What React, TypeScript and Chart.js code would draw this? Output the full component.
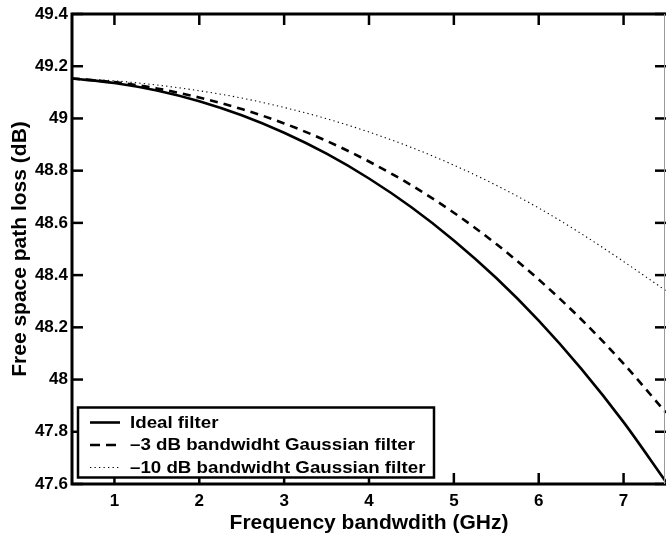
import React, { useEffect, useRef } from "react";
import { Chart, registerables } from "chart.js";

Chart.register(...registerables);

// ---- data ----
const freqGHz = [0.5, 1, 1.5, 2, 2.5, 3, 3.5, 4, 4.5, 5, 5.5, 6, 6.5, 7, 7.5];
const idealLoss = [49.153, 49.136, 49.107, 49.066, 49.012, 48.945, 48.865, 48.77, 48.66, 48.533, 48.389, 48.226, 48.042, 47.837, 47.608];
const gauss3Loss = [49.153, 49.139, 49.115, 49.08, 49.036, 48.981, 48.914, 48.835, 48.744, 48.639, 48.519, 48.383, 48.231, 48.061, 47.873];
const gauss10Loss = [49.153, 49.144, 49.128, 49.106, 49.078, 49.042, 48.999, 48.948, 48.889, 48.821, 48.744, 48.657, 48.559, 48.452, 48.34];
const seriesLabels = ["Ideal filter", "\u20133 dB bandwidht Gaussian filter", "\u201310 dB bandwidht Gaussian filter"];
const xTickValues = [1, 2, 3, 4, 5, 6, 7];
const yTickValues = [47.6, 47.8, 48, 48.2, 48.4, 48.6, 48.8, 49, 49.2, 49.4];
const xTitle = "Frequency bandwdith (GHz)";
const yTitle = "Free space path loss (dB)";

const FONT = "'Liberation Sans', Arial, Helvetica, sans-serif";
const dashStyles: number[][] = [[], [8, 6], [1.3, 3.2]];
const lineWidths = [2.6, 2.6, 1.1];

const framePlugin = {
  id: "frameAndLegend",
  afterDatasetsDraw(chart: any) {
    const { ctx, chartArea: a, scales } = chart;
    const x = scales.x;
    const y = scales.y;
    const seg = (x1: number, y1: number, x2: number, y2: number) => {
      ctx.beginPath();
      ctx.moveTo(x1, y1);
      ctx.lineTo(x2, y2);
      ctx.stroke();
    };
    ctx.save();
    ctx.strokeStyle = "#000";
    ctx.lineCap = "butt";
    ctx.lineWidth = 2.5;
    const tl = 11;
    for (const v of xTickValues) {
      const px = x.getPixelForValue(v);
      seg(px, a.bottom, px, a.bottom - tl);
      seg(px, a.top, px, a.top + tl);
    }
    for (const v of yTickValues) {
      const py = y.getPixelForValue(v);
      seg(a.left, py, a.left + tl, py);
      seg(a.right, py, a.right - tl, py);
    }
    // frame
    ctx.lineWidth = 3;
    ctx.beginPath();
    ctx.moveTo(a.right, a.top);
    ctx.lineTo(a.left, a.top);
    ctx.lineTo(a.left, a.bottom);
    ctx.lineTo(a.right, a.bottom);
    ctx.stroke();
    ctx.strokeStyle = "#9a9a9a";
    ctx.lineWidth = 1;
    seg(a.right - 1.5, a.top, a.right - 1.5, a.bottom);

    // legend
    const bx = a.left + 6;
    const bw = 356;
    const bh = 70;
    const by = a.bottom - 6.5 - bh;
    ctx.fillStyle = "#fff";
    ctx.fillRect(bx, by, bw, bh);
    ctx.strokeStyle = "#000";
    ctx.lineWidth = 2.5;
    ctx.strokeRect(bx, by, bw, bh);
    ctx.font = `bold 16px ${FONT}`;
    ctx.textBaseline = "middle";
    ctx.textAlign = "left";
    ctx.fillStyle = "#000";
    chart.data.datasets.forEach((ds: any, i: number) => {
      const rowY = by + 15 + i * 22.5;
      ctx.save();
      ctx.strokeStyle = "#000";
      ctx.lineWidth = lineWidths[i];
      ctx.setLineDash(i === 1 ? [10, 6] : dashStyles[i]);
      seg(bx + 12, rowY, bx + 42, rowY);
      ctx.restore();
      ctx.save();
      ctx.translate(bx + 52, rowY + 1);
      ctx.scale(1.17, 1);
      ctx.fillText(ds.label, 0, 0);
      ctx.restore();
    });
    ctx.restore();
  },
};

export default function App() {
  const ref = useRef<HTMLCanvasElement | null>(null);
  useEffect(() => {
    if (!ref.current) return;
    const chart = new Chart(ref.current, {
      type: "line",
      data: {
        labels: freqGHz,
        datasets: [idealLoss, gauss3Loss, gauss10Loss].map((vals, i) => ({
          label: seriesLabels[i],
          data: vals.map((v, j) => ({ x: freqGHz[j], y: v })),
          borderColor: "#000",
          borderWidth: lineWidths[i],
          borderDash: dashStyles[i],
          pointRadius: 0,
          fill: false,
          cubicInterpolationMode: "monotone" as const,
        })),
      },
      options: {
        animation: false,
        responsive: false,
        devicePixelRatio: 1,
        layout: { padding: { top: 14, right: 0, bottom: 0, left: 0 } },
        plugins: { legend: { display: false }, tooltip: { enabled: false } },
        scales: {
          x: {
            type: "linear",
            min: 0.5,
            max: 7.5,
            grid: { display: false, drawTicks: false },
            border: { display: false },
            afterBuildTicks: (s: any) => {
              s.ticks = xTickValues.map((v) => ({ value: v }));
            },
            afterFit: (s: any) => {
              s.height = 56;
              s.paddingLeft = 0;
              s.paddingRight = 0;
            },
            ticks: {
              color: "#000",
              padding: 7,
              maxRotation: 0,
              font: { family: FONT, size: 17, weight: "bold" },
              callback: (v: any) => String(v),
            },
            title: {
              display: true,
              text: xTitle,
              color: "#000",
              padding: { top: 0, bottom: 4 },
              font: { family: FONT, size: 21, weight: "bold" },
            },
          },
          y: {
            type: "linear",
            min: 47.6,
            max: 49.4,
            grid: { display: false, drawTicks: false },
            border: { display: false },
            afterBuildTicks: (s: any) => {
              s.ticks = yTickValues.map((v) => ({ value: v }));
            },
            afterFit: (s: any) => {
              s.width = 72;
              s.paddingTop = 0;
              s.paddingBottom = 0;
            },
            ticks: {
              color: "#000",
              padding: 4,
              font: { family: FONT, size: 17, weight: "bold" },
              callback: (v: any) => String(Number(Number(v).toFixed(1))),
            },
            title: {
              display: true,
              text: yTitle,
              color: "#000",
              padding: { top: 8, bottom: 0 },
              font: { family: FONT, size: 21, weight: "bold" },
            },
          },
        },
      },
      plugins: [framePlugin],
    });
    return () => chart.destroy();
  }, []);
  return (
    <div style={{ position: "absolute", left: 0, top: 0, width: 666, height: 540, background: "#fff" }}>
      <canvas ref={ref} width={666} height={540} style={{ display: "block" }} />
    </div>
  );
}
